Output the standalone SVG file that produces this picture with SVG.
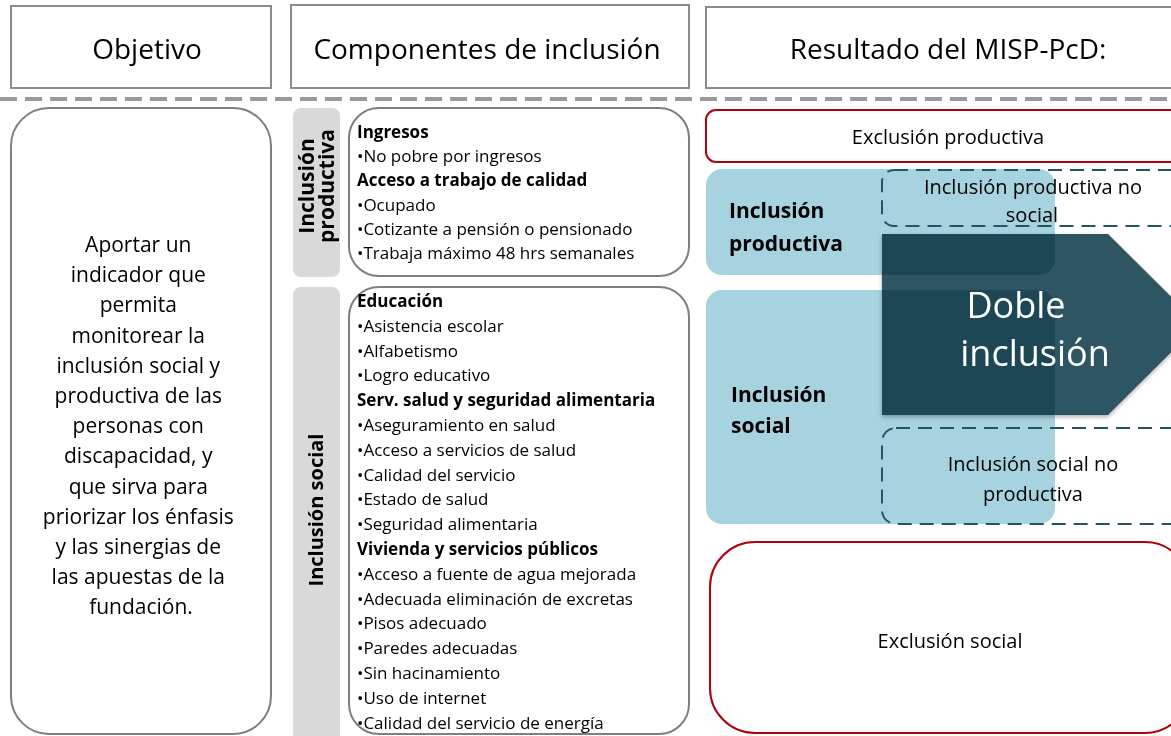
<svg xmlns="http://www.w3.org/2000/svg" width="1171" height="736" viewBox="0 0 1171 736">
<defs>
<style>
text{font-family:"Open Sans","Noto Sans","Liberation Sans",sans-serif;fill:#000}
.hdr{fill:#fff;stroke:#8c8c8c;stroke-width:2}
.hdrt{font-size:28px;text-anchor:middle}
.gbox{fill:#fff;stroke:#7f7f7f;stroke-width:2}
.tab{fill:#d9d9d9}
.tabt{font-size:20px;font-weight:bold;text-anchor:middle}
.li{font-size:17px}
.b{font-weight:bold}
.obj{font-size:21px;text-anchor:middle}
.red{fill:#fff;stroke:#b00010;stroke-width:2}
.blue{fill:#a6d3df;mix-blend-mode:multiply}
.dash{fill:none;stroke:#245565;stroke-width:2;stroke-dasharray:14 8}
.rt{font-size:20px;text-anchor:middle}
.bt{font-size:21px;font-weight:bold}
.wt{font-size:36px;text-anchor:middle;fill:#fff}
</style>
<filter id="sh" x="-10%" y="-10%" width="120%" height="130%">
<feDropShadow dx="0" dy="2" stdDeviation="2" flood-color="#000" flood-opacity="0.3"/>
</filter>
</defs>
<rect width="1171" height="736" fill="#fff"/>

<g id="hdr-objetivo">
<rect class="hdr" x="11" y="6" width="260" height="82"/>
<text class="hdrt" x="147" y="59">Objetivo</text>
</g>
<g id="hdr-componentes">
<rect class="hdr" x="291" y="5" width="398" height="83"/>
<text class="hdrt" x="487" y="59">Componentes de inclusión</text>
</g>
<g id="hdr-resultado">
<rect class="hdr" x="706" y="7" width="480" height="81"/>
<text class="hdrt" x="948" y="59">Resultado del MISP-PcD:</text>
</g>

<g id="connectors">
<line x1="0" y1="99" x2="1171" y2="99" stroke="#9a9a9a" stroke-width="4" stroke-dasharray="17 8"/>
</g>

<g id="objetivo">
<rect class="gbox" x="11" y="108" width="260" height="626" rx="38"/>
<text class="obj">
<tspan x="141" y="252">Aportar un</tspan>
<tspan x="141" y="282.2">indicador que</tspan>
<tspan x="141" y="312.4">permita</tspan>
<tspan x="141" y="342.6">monitorear la</tspan>
<tspan x="141" y="372.8">inclusión social y</tspan>
<tspan x="141" y="403">productiva de las</tspan>
<tspan x="141" y="433.2">personas con</tspan>
<tspan x="141" y="463.4">discapacidad, y</tspan>
<tspan x="141" y="493.6">que sirva para</tspan>
<tspan x="141" y="523.8">priorizar los énfasis</tspan>
<tspan x="141" y="554">y las sinergias de</tspan>
<tspan x="141" y="584.2">las apuestas de la</tspan>
<tspan x="141" y="614.4">fundación.</tspan>
</text>
</g>

<g id="tab-productiva">
<rect class="tab" x="293" y="108" width="47" height="169" rx="8"/>
<text class="tabt" style="font-size:21px" transform="translate(316.5,186) rotate(-90)"><tspan x="0" y="-3">Inclusión</tspan><tspan x="0" y="17">productiva</tspan></text>
</g>
<g id="tab-social">
<rect class="tab" x="293" y="287" width="47" height="470" rx="8"/>
<text class="tabt" transform="translate(323,510) rotate(-90)" x="0" y="0">Inclusión social</text>
</g>

<g id="comp-productiva">
<rect class="gbox" x="349" y="108" width="340" height="168" rx="30"/>
<text class="li">
<tspan x="357" y="138" class="b">Ingresos</tspan>
<tspan x="357" y="162.2">•No pobre por ingresos</tspan>
<tspan x="357" y="186.4" class="b">Acceso a trabajo de calidad</tspan>
<tspan x="357" y="210.6">•Ocupado</tspan>
<tspan x="357" y="234.8">•Cotizante a pensión o pensionado</tspan>
<tspan x="357" y="259">•Trabaja máximo 48 hrs semanales</tspan>
</text>
</g>

<g id="comp-social">
<rect class="gbox" x="349" y="287" width="340" height="447" rx="30"/>
<text class="li">
<tspan x="357" y="307" class="b">Educación</tspan>
<tspan x="357" y="331.8">•Asistencia escolar</tspan>
<tspan x="357" y="356.6">•Alfabetismo</tspan>
<tspan x="357" y="381.4">•Logro educativo</tspan>
<tspan x="357" y="406.2" class="b">Serv. salud y seguridad alimentaria</tspan>
<tspan x="357" y="431">•Aseguramiento en salud</tspan>
<tspan x="357" y="455.8">•Acceso a servicios de salud</tspan>
<tspan x="357" y="480.6">•Calidad del servicio</tspan>
<tspan x="357" y="505.4">•Estado de salud</tspan>
<tspan x="357" y="530.2">•Seguridad alimentaria</tspan>
<tspan x="357" y="555" class="b">Vivienda y servicios públicos</tspan>
<tspan x="357" y="579.8">•Acceso a fuente de agua mejorada</tspan>
<tspan x="357" y="604.6">•Adecuada eliminación de excretas</tspan>
<tspan x="357" y="629.4">•Pisos adecuado</tspan>
<tspan x="357" y="654.2">•Paredes adecuadas</tspan>
<tspan x="357" y="679">•Sin hacinamiento</tspan>
<tspan x="357" y="703.8">•Uso de internet</tspan>
<tspan x="357" y="728.6">•Calidad del servicio de energía</tspan>
</text>
</g>

<g id="excl-productiva">
<rect class="red" x="706" y="110" width="480" height="52" rx="10"/>
<text class="rt" x="948" y="144">Exclusión productiva</text>
</g>

<g id="doble-inclusion-shape">
<path d="M882,234 L1108,234 L1199,324.5 L1108,415 L882,415 Z" fill="#2f5762" filter="url(#sh)"/>
</g>

<g id="incl-productiva">
<rect class="blue" x="706" y="169" width="349" height="106" rx="16"/>
</g>
<g id="incl-social">
<rect class="blue" x="706" y="290" width="349" height="234" rx="16"/>
</g>

<g id="incl-prod-no-social">
<rect class="dash" x="882" y="170" width="310" height="56" rx="12"/>
<text class="rt"><tspan x="1033" y="194">Inclusión productiva no</tspan><tspan x="1032" y="222">social</tspan></text>
</g>
<g id="incl-soc-no-prod">
<rect class="dash" x="882" y="428" width="310" height="96" rx="14"/>
<text class="rt"><tspan x="1033" y="471">Inclusión social no</tspan><tspan x="1033" y="501">productiva</tspan></text>
</g>

<g id="labels-blue">
<text class="bt"><tspan x="729" y="218">Inclusión</tspan><tspan x="729" y="251">productiva</tspan></text>
<text class="bt"><tspan x="731" y="402">Inclusión</tspan><tspan x="731" y="433">social</tspan></text>
</g>

<g id="doble-inclusion">
<text class="wt"><tspan x="1016" y="318">Doble</tspan><tspan x="1035" y="366">inclusión</tspan></text>
</g>

<g id="excl-social">
<rect class="red" x="710" y="542" width="480" height="191" rx="45"/>
<text class="rt" x="950" y="648">Exclusión social</text>
</g>
</svg>
